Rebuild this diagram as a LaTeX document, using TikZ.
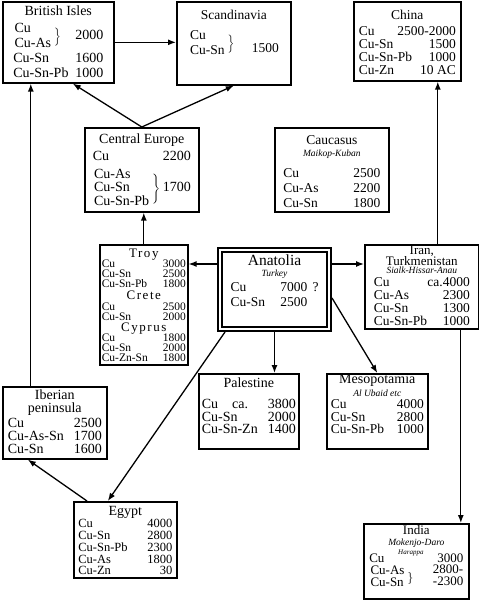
\documentclass[tikz,border=0pt]{standalone}
\usepackage{fontspec}
\setmainfont{Liberation Serif}
\usetikzlibrary{arrows.meta}

% lines inside the boxes
\newcommand\hd[1]{\hbox to\hsize{\hss\strut#1\hss}}
\newcommand\note[1]{\hbox to\hsize{\hss\fontsize{9.5}{9.5}\selectfont\itshape#1\hss}}
\newcommand\rw[2]{\hbox to\hsize{\strut#1\hfil#2}}
\newcommand\isle{\fontsize{13}{10}\selectfont\addfontfeature{LetterSpace=12}}
% #1 extra lines, #2 alloys, #3 drop of the date, #4 date
\newcommand\brc[4]{\hbox to\hsize{\lineskiplimit=0pt\delimiterfactor=500 \delimitershortfall=16pt\strut
  \setbox0\hbox{\begin{tabular}[t]{@{}l@{}}#2\end{tabular}}%
  \setbox4\hbox{$\vcenter{\copy0}$}%
  \setbox2\hbox{$\left.\vcenter{\copy0}\kern3pt\right\}$}%
  \dimen0=\ht4 \advance\dimen0 by -.7\baselineskip
  \lower\dimen0\hbox{\smash{\box2}}\hfil
  \lower#3\baselineskip\hbox{\smash{#4}}}\kern#1\baselineskip}
\newcommand\pane[2]{\vtop{\hsize=#1\lineskiplimit=-\maxdimen#2}}

\begin{document}
\begin{tikzpicture}[x=1pt, y=-1pt,
    region/.style={draw, line width=1.6pt, inner sep=0pt, anchor=north west,
      font=\fontsize{13.5}{15}\selectfont},
    link/.style={line width=1.3pt, -{Latex[length=8pt, width=6pt]}}]
   \useasboundingbox (0,0) rectangle (479,600);

   \node[region, minimum width=111pt, text height=14pt, text depth=67pt,
     font=\fontsize{14}{15}\selectfont] (brit) at (2,1)
     {\pane{90pt}{\hd{British Isles}\kern1.5pt\brc{1}{Cu\\Cu-As}{.5}{2000}\rw{Cu-Sn}{1600}\rw{Cu-Sn-Pb}{1000}}};
   \node[region, minimum width=114pt, text height=18pt, text depth=65pt] (scand) at (176,1)
     {\pane{90pt}{\hd{Scandinavia}\kern5pt\brc{1}{Cu\\Cu-Sn}{.85}{1500}}};
   \node[region, minimum width=107pt, text height=18pt, text depth=61pt,
     font=\fontsize{13.5}{13}\selectfont] (china) at (353,1)
     {\pane{97pt}{\hd{China}\kern3pt\rw{Cu}{2500-2000}\rw{Cu-Sn}{1500}\rw{Cu-Sn-Pb}{1000}\rw{Cu-Zn}{10 AC}}};
   \node[region, minimum width=114pt, text height=16pt, text depth=68pt,
     font=\fontsize{14}{13.3}\selectfont] (cent) at (84,127)
     {\pane{98pt}{\hd{Central Europe}\kern3pt\rw{Cu}{2200}\kern5pt\brc{2}{Cu-As\\Cu-Sn\\Cu-Sn-Pb}{1}{1700}}};
   \node[region, minimum width=114pt, text height=17pt, text depth=67pt] (cauc) at (274,127)
     {\pane{97pt}{\hd{Caucasus}\kern-3pt\note{Maikop-Kuban}\kern6pt\rw{Cu}{2500}\rw{Cu-As}{2200}\rw{Cu-Sn}{1800}}};
   \node[region, minimum width=88pt, text height=13pt, text depth=107pt,
     font=\fontsize{11.5}{10}\selectfont] (troy) at (99,244)
     {\pane{84pt}{\hd{\isle Troy}\rw{Cu}{3000}\rw{Cu-Sn}{2500}\rw{Cu-Sn-Pb}{1800}\kern2pt
      \hd{\isle Crete}\kern1pt\rw{Cu}{2500}\rw{Cu-Sn}{2000}\kern1pt
      \hd{\isle Cyprus}\rw{Cu}{1800}\rw{Cu-Sn}{2000}\rw{Cu-Zn-Sn}{1800}}};
   \node[region, double, double distance=2pt, line width=2pt, outer sep=3pt,
     minimum width=109pt, text height=15pt, text depth=64pt] (anat) at (217,247)
     {\pane{88pt}{\hd{\fontsize{15.5}{15}\selectfont Anatolia}\kern-4pt\note{Turkey}
      \rw{\makebox[50pt][l]{Cu}7000}{?}\rw{\makebox[50pt][l]{Cu-Sn}2500}{}}};
   \node[region, minimum width=114pt, text height=9.5pt, text depth=74.5pt,
     font=\fontsize{13.5}{13}\selectfont] (iran) at (364,244)
     {\pane{96pt}{\hd{\fontsize{13}{13}\selectfont Iran,}\kern-2pt\hd{\fontsize{13}{13}\selectfont Turkmenistan}\kern-4.5pt
      \note{Sialk-Hissar-Anau}
      \rw{Cu}{ca.4000}\rw{Cu-As}{2300}\rw{Cu-Sn}{1300}\rw{Cu-Sn-Pb}{1000}}};
   \node[region, minimum width=100pt, text height=14pt, text depth=61pt,
     font=\fontsize{14}{12.5}\selectfont] (pal) at (198,373)
     {\pane{94pt}{\hd{Palestine}\kern8.5pt\rw{Cu\quad ca.}{3800}\rw{Cu-Sn}{2000}\rw{Cu-Sn-Zn}{1400}}};
   \node[region, minimum width=101pt, text height=10pt, text depth=65pt,
     font=\fontsize{13.5}{12.5}\selectfont] (meso) at (326,373)
     {\pane{93pt}{\hd{\fontsize{14}{12.5}\selectfont Mesopotamia}\kern.5pt\note{Al Ubaid etc}\kern-.5pt
      \rw{Cu}{4000}\rw{Cu-Sn}{2800}\rw{Cu-Sn-Pb}{1000}}};
   \node[region, minimum width=104pt, text height=13pt, text depth=59pt,
     font=\fontsize{14}{13}\selectfont] (iber) at (2,386)
     {\pane{94pt}{\hd{Iberian}\hd{peninsula}\kern2pt\rw{Cu}{2500}\rw{Cu-As-Sn}{1700}\rw{Cu-Sn}{1600}}};
   \node[region, minimum width=103pt, text height=14pt, text depth=62pt,
     font=\fontsize{12.5}{11.8}\selectfont] (egypt) at (73,501)
     {\pane{94pt}{\hd{\fontsize{14}{12}\selectfont Egypt}\rw{Cu}{4000}\rw{Cu-Sn}{2800}\rw{Cu-Sn-Pb}{2300}\rw{Cu-As}{1800}\rw{Cu-Zn}{30}}};
   \node[region, minimum width=105pt, text height=11pt, text depth=64pt,
     font=\fontsize{13}{11}\selectfont] (india) at (363,523)
     {\pane{94pt}{\hd{India}\note{Mokenjo-Daro}\kern6pt
      \rw{Cu\hfil\raisebox{8pt}[0pt][0pt]{\fontsize{7}{7}\selectfont\itshape Harappa}}{3000}
      \brc{1}{Cu-As\hspace{22pt}\\Cu-Sn}{0}{\begin{tabular}[t]{@{}r@{}}2800-\\-2300\end{tabular}}}};

   \coordinate (aw) at ([yshift=25.5pt]anat.west);
   \coordinate (ae) at ([yshift=25.5pt]anat.east);
   \coordinate (ic) at ([xshift=16pt]iran.north);
   \coordinate (ii) at ([xshift=39pt]iran.south);
   \coordinate (ib) at ([xshift=-24pt]iber.north);

   \draw[link] (brit.east) to (brit.east -| scand.west);
   \draw[link] (cent.north) to ([xshift=14.5pt]brit.south);
   \draw[link] (cent.north) to (scand.south);
   \draw[link] (troy.north) to (troy.north |- cent.south);
   \draw[link] (aw) to (aw -| troy.east);
   \draw[link] (ae) to (ae -| iran.west);
   \draw[link] (ic) to (ic |- china.south);
   \draw[link] (ii) to (ii |- india.north);
   \draw[link] (anat.south) to (anat.south |- pal.north);
   \draw[link] ([yshift=-8.5pt]anat.east) to (meso.north);
   \draw[link] ([xshift=8pt]anat.south west) to ([xshift=-17.5pt]egypt.north);
   \draw[link] ([xshift=14pt]egypt.north west) to ([xshift=-27pt]iber.south);
   \draw[link] (ib) to (ib |- brit.south);

 \end{tikzpicture}
\end{document}
